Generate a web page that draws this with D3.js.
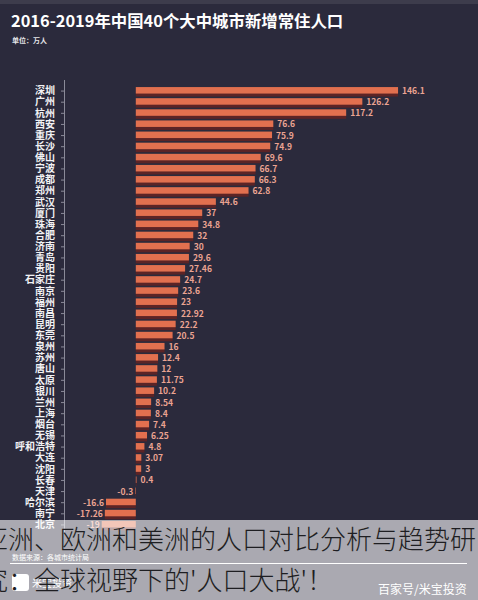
<!DOCTYPE html>
<html>
<head>
<meta charset="utf-8">
<script src="https://cdn.jsdelivr.net/npm/d3@7"></script>
<style>
  html, body { margin: 0; padding: 0; background: #2b2a3c; }
  svg { display: block; }
  text { font-family: "Noto Sans CJK SC", "Noto Sans", sans-serif; }
</style>
</head>
<body>
<svg id="chart" width="478" height="600"></svg>
<script>
const cities = ['深圳','广州','杭州','西安','重庆','长沙','佛山','宁波','成都','郑州',
  '武汉','厦门','珠海','合肥','济南','青岛','贵阳','石家庄','南京','福州',
  '南昌','昆明','东莞','泉州','苏州','唐山','太原','银川','兰州','上海',
  '烟台','无锡','呼和浩特','大连','沈阳','长春','天津','哈尔滨','南宁','北京'];
const values = [146.1,126.2,117.2,76.6,75.9,74.9,69.6,66.7,66.3,62.8,
  44.6,37,34.8,32,30,29.6,27.46,24.7,23.6,23,
  22.92,22.2,20.5,16,12.4,12,11.75,10.2,8.54,8.4,
  7.4,6.25,4.8,3.07,3,0.4,-0.3,-16.6,-17.26,-19];
const xDomain = [-40, 160];
const title = '2016-2019年中国40个大中城市新增常住人口';
const unit = '单位：万人';
const source = '数据来源：各城市统计局';
const overlayLines = ['亚洲、欧洲和美洲的人口对比分析与趋势研', "究：全球视野下的'人口大战'！"];

const svg = d3.select('#chart');
const data = cities.map((c, i) => ({city: c, value: values[i]}));

// header
svg.append('rect').attr('x', 0).attr('y', 0).attr('width', 478).attr('height', 4).attr('fill', '#3d3c4c');
svg.append('text').attr('x', 11).attr('y', 27).attr('fill', '#fff')
  .style('font-size', '16.4px').style('font-weight', 'bold').text(title);
svg.append('text').attr('x', 12).attr('y', 43).attr('fill', '#e6e6ea')
  .style('font-size', '7px').style('font-weight', 'bold').text(unit);

const x = d3.scaleLinear().domain(xDomain).range([64, 423]);
const y = d3.scaleBand().domain(cities).range([85.5, 530.5]);

const g = svg.append('g');

// shadow band under every bar
g.selectAll('.shadow').data(data).enter().append('rect')
  .attr('class', 'shadow')
  .attr('x', d => Math.min(x(0), x(d.value)))
  .attr('y', d => y(d.city) + y.bandwidth() / 2 + 1)
  .attr('width', d => Math.abs(x(d.value) - x(0)))
  .attr('height', 4.5)
  .attr('fill', '#5c2426');

g.selectAll('.bar').data(data).enter().append('rect')
  .attr('class', 'bar')
  .attr('x', d => Math.min(x(0), x(d.value)))
  .attr('y', d => y(d.city) + y.bandwidth() / 2 - 4)
  .attr('width', d => Math.abs(x(d.value) - x(0)))
  .attr('height', 6.5)
  .attr('fill', '#e2704f');

g.selectAll('.val').data(data).enter().append('text')
  .attr('class', 'val')
  .attr('x', d => d.value >= 0 ? x(d.value) + 4 : x(d.value) - 2)
  .attr('y', d => y(d.city) + y.bandwidth() / 2 + 3)
  .attr('text-anchor', d => d.value >= 0 ? 'start' : 'end')
  .attr('fill', '#eba492')
  .style('font-size', '8.5px').style('font-weight', 'bold')
  .text(d => d.value);

// category axis
const axis = svg.append('g').attr('transform', 'translate(64,0)')
  .call(d3.axisLeft(y).tickSize(3).tickPadding(6).tickSizeOuter(0));
axis.select('.domain').remove();
axis.selectAll('.tick line').attr('stroke', '#8a8a98');
axis.selectAll('.tick text').attr('fill', '#f2f2f4')
  .style('font-size', '10px').style('font-weight', 'bold')
  .style('font-family', '"Noto Sans CJK SC", sans-serif');
svg.append('line').attr('x1', 64.5).attr('x2', 64.5).attr('y1', 80).attr('y2', 533)
  .attr('stroke', '#8a8a98').attr('stroke-width', 1);

// footer under the overlay
svg.append('text').attr('x', 12).attr('y', 560).attr('fill', '#fff')
  .style('font-size', '7px').text(source);
svg.append('line').attr('x1', 10).attr('x2', 467).attr('y1', 563.5).attr('y2', 563.5)
  .attr('stroke', '#fff').attr('stroke-width', 1);
svg.append('rect').attr('x', 12).attr('y', 574).attr('width', 17).attr('height', 17)
  .attr('rx', 3).attr('fill', '#fff');
svg.append('text').attr('x', 32).attr('y', 587).attr('fill', '#fff')
  .style('font-size', '10px').text('米宝投资');

// translucent overlay with caption
svg.append('rect').attr('x', 0).attr('y', 520).attr('width', 478).attr('height', 80)
  .attr('fill', '#fff').attr('opacity', 0.6);
svg.append('text').attr('x', -18).attr('y', 549).attr('fill', '#1e1e22')
  .style('font-size', '26px').style('font-weight', 300).text(overlayLines[0]);
svg.append('text').attr('x', -18).attr('y', 590).attr('fill', '#1e1e22')
  .style('font-size', '26px').style('font-weight', 300).text(overlayLines[1]);
svg.append('text').attr('x', 378).attr('y', 594).attr('fill', '#fff')
  .style('font-size', '12px').text('百家号/米宝投资');
</script>
</body>
</html>
